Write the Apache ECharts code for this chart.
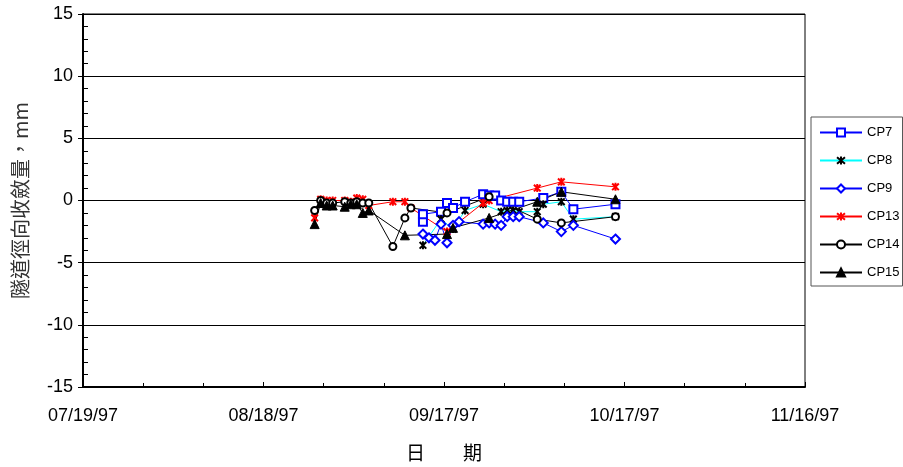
<!DOCTYPE html>
<html>
<head>
<meta charset="utf-8">
<script src="https://cdn.jsdelivr.net/npm/echarts@6/dist/echarts.min.js"></script>
<style>
  html, body { margin: 0; padding: 0; background: #ffffff; }
  #chart { width: 903px; height: 467px; }
</style>
</head>
<body>
<div id="chart"></div>
<script>
// Axis tick labels
const xTickLabels = ['07/19/97', '08/18/97', '09/17/97', '10/17/97', '11/16/97'];
const yTickValues = [-15, -10, -5, 0, 5, 10, 15];

// Survey readings (MM/DD in 1997) and radial convergence (mm)
const cp7Dates  = ['09/13','09/13','09/16','09/17','09/18','09/20','09/23','09/24','09/25','09/26','09/27','09/28','09/29','10/03','10/06','10/08','10/15'];
const cp7Values = [-1.7, -1.1, -0.9, -0.2, -0.6, -0.1, 0.5, 0.4, 0.4, 0.0, -0.1, -0.1, -0.1, 0.2, 0.7, -0.7, -0.3];

const cp8Dates  = ['09/13','09/16','09/18','09/20','09/23','09/26','09/27','09/28','09/29','10/02','10/03','10/06','10/08','10/15'];
const cp8Values = [-3.6, -1.5, -2.3, -0.8, -0.3, -0.9, -0.8, -0.8, -0.9, -0.9, -0.3, -0.1, -1.5, -1.3];

const cp9Dates  = ['09/13','09/14','09/15','09/16','09/17','09/18','09/19','09/23','09/24','09/25','09/26','09/27','09/28','09/29','10/03','10/06','10/08','10/15'];
const cp9Values = [-2.7, -3.0, -3.2, -1.9, -3.4, -2.0, -1.7, -1.9, -1.8, -1.9, -2.0, -1.3, -1.3, -1.3, -1.8, -2.5, -2.0, -3.1];

const cp13Dates  = ['08/26','08/27','08/28','08/29','08/31','09/01','09/02','09/03','09/04','09/08','09/10','09/11','09/17','09/23','09/24','10/02','10/06','10/15'];
const cp13Values = [-1.4, 0.1, 0.0, 0.0, 0.0, -0.1, 0.2, 0.1, -0.4, -0.1, -0.1, -0.6, -2.5, -0.2, 0.0, 1.0, 1.5, 1.1];

const cp14Dates  = ['08/26','08/27','08/28','08/29','08/31','09/01','09/02','09/03','09/04','09/08','09/10','09/11','09/17','09/24','10/02','10/06','10/15'];
const cp14Values = [-0.8, 0.0, -0.2, -0.2, -0.1, -0.2, -0.1, -0.2, -0.2, -3.7, -1.4, -0.6, -1.0, 0.3, -1.5, -1.8, -1.3];

const cp15Dates  = ['08/26','08/27','08/28','08/29','08/31','09/01','09/02','09/03','09/04','09/10','09/17','09/18','09/24','10/02','10/06','10/15'];
const cp15Values = [-1.9, -0.2, -0.4, -0.4, -0.5, -0.3, -0.3, -1.0, -0.8, -2.8, -2.7, -2.2, -1.4, -0.1, 0.7, 0.1];

// Readings are taken around midday
const READ_HOUR = 12;
const DAY_MS = 86400000;
const ORIGIN = Date.UTC(1997, 6, 19);

function dayOffset(md) {
  const parts = md.split('/').map(Number);
  return (Date.UTC(1997, parts[0] - 1, parts[1], READ_HOUR) - ORIGIN) / DAY_MS;
}
function pairs(dates, values) {
  return dates.map((d, i) => [dayOffset(d), values[i]]);
}

const FONT = '"Liberation Sans", Arial, sans-serif';
const STAR = 'path://M0,0L10,10M10,0L0,10M5,-1L5,11';

function lineSeries(name, data, lineColor, symbol, size, fill, stroke, strokeW) {
  return {
    name: name,
    type: 'line',
    data: data,
    symbol: symbol,
    symbolSize: size,
    symbolKeepAspect: true,
    showAllSymbol: true,
    animation: false,
    lineStyle: { color: lineColor, width: 1 },
    itemStyle: { color: fill, borderColor: stroke, borderWidth: strokeW },
    emphasis: { disabled: true }
  };
}

const chart = echarts.init(document.getElementById('chart'), null, { renderer: 'canvas' });

chart.setOption({
  backgroundColor: '#ffffff',
  textStyle: { fontFamily: FONT },
  grid: {
    left: 83, right: 98, top: 14, bottom: 80,
    show: true, borderColor: '#000', borderWidth: 1, backgroundColor: 'transparent'
  },
  legend: {
    orient: 'vertical',
    left: 811, top: 117,
    padding: [9, 3, 7, 8],
    itemWidth: 42, itemHeight: 10, itemGap: 15,
    borderColor: '#555', borderWidth: 1,
    backgroundColor: '#fff',
    textStyle: { fontFamily: FONT, fontSize: 13, color: '#000' },
    selectedMode: false
  },
  xAxis: {
    type: 'value',
    min: 0, max: 120, interval: 30,
    name: '日\u3000\u3000期',
    nameLocation: 'middle',
    nameGap: 56,
    nameTextStyle: { fontFamily: '"Noto Sans CJK TC", sans-serif', fontSize: 19, color: '#000' },
    axisLine: { show: true, onZero: false, lineStyle: { color: '#000', width: 2 } },
    axisTick: { show: true, inside: true, length: 5, lineStyle: { color: '#000', width: 1 } },
    minorTick: { show: true, splitNumber: 3, length: 4, lineStyle: { color: '#000', width: 1 } },
    splitLine: { show: false },
    axisLabel: {
      margin: 20, fontSize: 18, color: '#000', fontFamily: FONT,
      formatter: v => xTickLabels[Math.round(v / 30)]
    }
  },
  yAxis: [{
    type: 'value',
    min: -15, max: 15, interval: 5,
    name: '隧道徑向收斂量，mm',
    nameLocation: 'middle',
    nameRotate: 90,
    nameGap: 53,
    nameTextStyle: { fontFamily: '"Noto Sans CJK TC", sans-serif', fontSize: 20, color: '#333' },
    axisLine: { show: true, onZero: false, lineStyle: { color: '#000', width: 2 } },
    axisTick: { show: true, inside: false, length: 5, lineStyle: { color: '#000', width: 1 } },
    splitLine: { show: true, lineStyle: { color: '#000', width: 1 } },
    axisLabel: {
      margin: 10, fontSize: 18, color: '#000', fontFamily: FONT,
      formatter: v => String(yTickValues[Math.round((v + 15) / 5)])
    }
  }, {
    // inner minor ticks every 1 mm
    type: 'value',
    position: 'left',
    min: -15, max: 15, interval: 1,
    axisLine: { show: false, onZero: false },
    axisTick: { show: true, inside: true, length: 5, lineStyle: { color: '#000', width: 1 } },
    splitLine: { show: false },
    axisLabel: { show: false }
  }],
  series: [
    lineSeries('CP7',  pairs(cp7Dates, cp7Values),   '#0000ff', 'rect',     8, '#ffffff', '#0000ff', 2),
    lineSeries('CP8',  pairs(cp8Dates, cp8Values),   '#00ffff', STAR,       8, '#000000', '#000000', 2),
    lineSeries('CP9',  pairs(cp9Dates, cp9Values),   '#0000ff', 'diamond',  9, '#ffffff', '#0000ff', 2),
    lineSeries('CP13', pairs(cp13Dates, cp13Values), '#ff0000', STAR,       8, '#ff0000', '#ff0000', 2),
    lineSeries('CP14', pairs(cp14Dates, cp14Values), '#000000', 'circle',   7, '#ffffff', '#000000', 2),
    lineSeries('CP15', pairs(cp15Dates, cp15Values), '#000000', 'triangle', 9, '#000000', '#000000', 1)
  ]
});
</script>
</body>
</html>
